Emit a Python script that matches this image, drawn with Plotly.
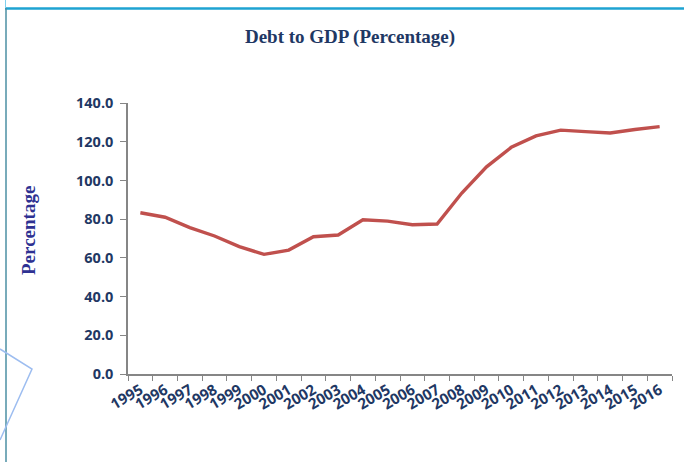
import plotly.graph_objects as go

years = [str(y) for y in range(1995, 2017)]
debt_pct = [83.3, 81.0, 75.6, 71.3, 65.8, 61.8, 64.0, 70.9, 71.8, 79.7, 79.0, 77.1,
            77.5, 93.5, 107.0, 117.1, 123.0, 126.0, 125.2, 124.5, 126.3, 127.8]
y_ticks = [0, 20, 40, 60, 80, 100, 120, 140]

W, H = 684, 462
L, R, T, B = 128, 12, 103, 88
pw, ph = W - L - R, H - T - B

def px(x):
    return (x - L) / pw

def py(y):
    return (H - B - y) / ph

navy = "#1F3864"

fig = go.Figure()
fig.add_trace(go.Scatter(
    x=years, y=debt_pct, mode="lines",
    line=dict(color="#C0504D", width=3.4),
    hoverinfo="x+y", showlegend=False,
))

shapes = [
    dict(type="line", xref="paper", yref="paper", x0=px(5), x1=px(684), y0=py(8.5), y1=py(8.5),
         line=dict(color="#1EA3D2", width=2.5)),
    dict(type="line", xref="paper", yref="paper", x0=px(6), x1=px(6), y0=py(8), y1=py(462),
         line=dict(color="#4B8FA3", width=1.5)),
    dict(type="line", xref="paper", yref="paper", x0=px(5.5), x1=px(5.5), y0=py(0), y1=py(8),
         line=dict(color="#7FD0EE", width=1)),
    dict(type="path", xref="paper", yref="paper",
         path="M {} {} L {} {} L {} {}".format(px(0), py(349), px(32), py(369), px(0), py(440)),
         line=dict(color="#9DBDF0", width=1.5)),
]

fig.update_layout(
    width=W, height=H,
    margin=dict(l=L, r=R, t=T, b=B),
    paper_bgcolor="white", plot_bgcolor="white",
    title=dict(text="Debt to GDP (Percentage)", x=350 / W, xanchor="center",
               y=1 - 36 / H, yanchor="middle", yref="container",
               font=dict(family="Liberation Serif", size=19, color=navy, weight="bold")),
    xaxis=dict(
        type="category", tickson="boundaries", ticks="outside", ticklen=5,
        tickcolor="#868686", showline=True, linecolor="#868686", linewidth=1.5,
        showgrid=False, zeroline=False, tickangle=-30,
        tickfont=dict(family="Open Sans", size=15, color=navy, weight="bold"),
        range=[-0.5, len(years) - 0.5],
    ),
    yaxis=dict(
        range=[0, 140], tickvals=y_ticks, tickformat=".1f", ticks="outside", ticklen=6,
        tickcolor="#868686", showline=True, linecolor="#868686", linewidth=1.5,
        showgrid=False, zeroline=False, ticklabelstandoff=4,
        tickfont=dict(family="Open Sans", size=14.5, color=navy, weight="bold"),
    ),
    annotations=[dict(
        text="Percentage", textangle=-90, xref="paper", yref="paper",
        x=px(28), y=py(231), xanchor="center", yanchor="middle", showarrow=False,
        font=dict(family="Liberation Serif", size=19, color="#2E3192", weight="bold"),
    )],
    shapes=shapes,
)

fig.write_html("out.html")
